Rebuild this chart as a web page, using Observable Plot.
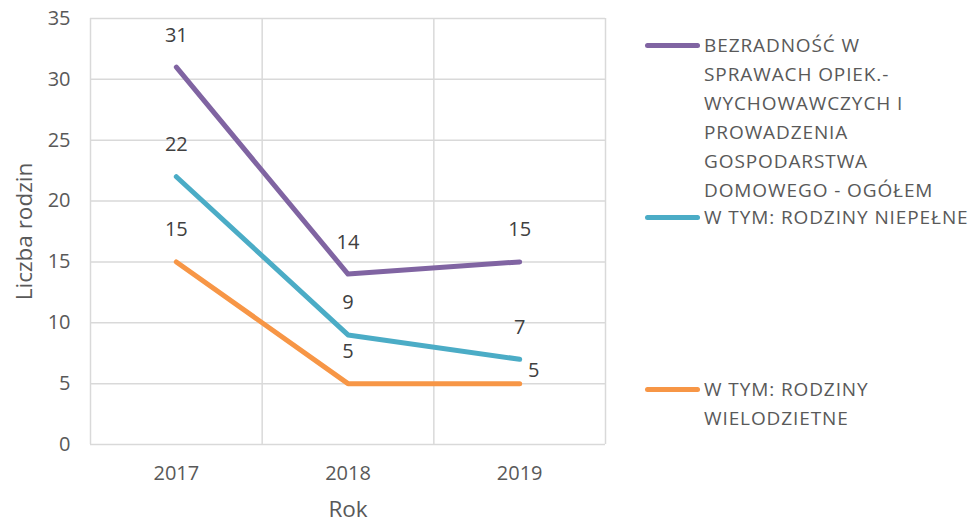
<!DOCTYPE html>
<html>
<head>
<meta charset="utf-8">
<script src="https://cdn.jsdelivr.net/npm/d3@7"></script>
<script src="https://cdn.jsdelivr.net/npm/@observablehq/plot@0.6"></script>
<style>
  html, body { margin: 0; padding: 0; background: #fff; }
  #wrap { position: relative; width: 978px; height: 526px; font-family: "Open Sans", sans-serif; }
  .leg { position: absolute; left: 645px; display: flex; align-items: flex-start; }
  .sw { width: 55px; height: 5px; border-radius: 3px; margin-top: 12px; flex: none; }
  .lt { margin-left: 4px; font-size: 19px; letter-spacing: 0.9px; line-height: 29px; color: #595959; white-space: nowrap; }
</style>
</head>
<body>
<div id="wrap"></div>
<script>
const years = [2017, 2018, 2019];
const seriesNames = [
  "BEZRADNOŚĆ W SPRAWACH OPIEK.-WYCHOWAWCZYCH I PROWADZENIA GOSPODARSTWA DOMOWEGO - OGÓŁEM",
  "W TYM: RODZINY NIEPEŁNE",
  "W TYM: RODZINY WIELODZIETNE"
];
const legendLines = [
  ["BEZRADNOŚĆ W", "SPRAWACH OPIEK.-", "WYCHOWAWCZYCH I", "PROWADZENIA", "GOSPODARSTWA", "DOMOWEGO - OGÓŁEM"],
  ["W TYM: RODZINY NIEPEŁNE"],
  ["W TYM: RODZINY", "WIELODZIETNE"]
];
const ogolem = [31, 14, 15];
const niepelne = [22, 9, 7];
const wielodzietne = [15, 5, 5];
const colors = ["#8064A2", "#4BACC6", "#F79646"];
const yTicks = [0, 5, 10, 15, 20, 25, 30, 35];

const seriesValues = [ogolem, niepelne, wielodzietne];
const data = [];
seriesValues.forEach((vals, si) => {
  years.forEach((yr, i) => data.push({series: seriesNames[si], year: yr, value: vals[i], si, i}));
});
const bounds = years.map(y => y - 0.5).concat([years[years.length - 1] + 0.5]);
const isSpecial = d => d.si === 2 && d.i === years.length - 1;

const chart = Plot.plot({
  width: 978,
  height: 526,
  marginLeft: 90,
  marginRight: 373,
  marginTop: 18,
  marginBottom: 82,
  style: {fontFamily: "'Open Sans', sans-serif", color: "#595959", background: "#fff"},
  x: {domain: [bounds[0], bounds[bounds.length - 1]]},
  y: {domain: [0, 35]},
  color: {domain: seriesNames, range: colors},
  marks: [
    Plot.ruleY(yTicks, {stroke: "#d9d9d9", strokeWidth: 1.5}),
    Plot.ruleX(bounds, {stroke: "#d9d9d9", strokeWidth: 1.5}),
    Plot.axisY({ticks: yTicks, tickSize: 0, tickPadding: 20, fontSize: 20, label: null, fill: "#595959"}),
    Plot.axisX({ticks: years, tickFormat: d3.format("d"), tickSize: 0, tickPadding: 21, fontSize: 20, label: null, fill: "#595959"}),
    Plot.text(["Liczba rodzin"], {frameAnchor: "left", textAnchor: "middle", dx: -66, rotate: -90, fontSize: 22.5, fill: "#595959"}),
    Plot.text(["Rok"], {frameAnchor: "bottom", dy: 72, fontSize: 22.5, fill: "#595959"}),
    Plot.line(data, {x: "year", y: "value", z: "series", stroke: "series", strokeWidth: 5, strokeLinecap: "round", strokeLinejoin: "round"}),
    Plot.text(data.filter(d => !isSpecial(d)), {x: "year", y: "value", text: "value", dy: -32, fontSize: 20, fill: "#404040"}),
    Plot.text(data.filter(isSpecial), {x: "year", y: "value", text: "value", dx: 14, dy: -13, fontSize: 20, fill: "#404040"})
  ]
});

const wrap = document.getElementById("wrap");
wrap.appendChild(chart);

const legendTops = [31, 203, 375];
seriesNames.forEach((name, si) => {
  const div = document.createElement("div");
  div.className = "leg";
  div.style.top = legendTops[si] + "px";
  const sw = document.createElement("div");
  sw.className = "sw";
  sw.style.background = colors[si];
  const lt = document.createElement("div");
  lt.className = "lt";
  lt.innerHTML = legendLines[si].join("<br>");
  div.appendChild(sw);
  div.appendChild(lt);
  wrap.appendChild(div);
});
chart.style.position = "absolute";
chart.style.left = "0";
chart.style.top = "0";
</script>
</body>
</html>
